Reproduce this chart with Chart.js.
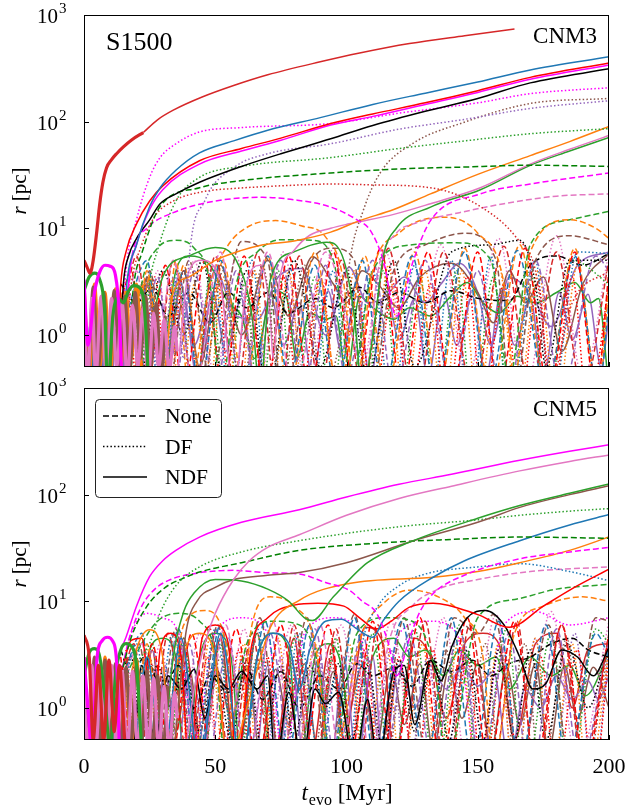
<!DOCTYPE html>
<html>
<head>
<meta charset="utf-8">
<title>S1500 orbits</title>
<script src="https://cdn.jsdelivr.net/npm/chart.js@4.4.1/dist/chart.umd.min.js"></script>
<style>
  html, body { margin: 0; padding: 0; background: #fff; }
  #wrap { position: relative; width: 627px; height: 810px; }
  canvas { position: absolute; left: 0; }
  #top { top: 0; }
  #bottom { top: 378px; }
</style>
</head>
<body>
<div id="wrap">
  <canvas id="top" width="627" height="378" style="width:627px;height:378px"></canvas>
  <canvas id="bottom" width="627" height="432" style="width:627px;height:432px"></canvas>
</div>
<script>
// axis ticks
const xTicks = [0, 50, 100, 150, 200];
const yTicks = [1, 10, 100, 1000];
const yTickExp = ["0", "1", "2", "3"];

// ---- top panel (CNM3), [t_evo in Myr, r in pc] ----
const topRedThick = [[0,5],[1.2,4.3],[2.3,3.8],[3.5,5],[4.8,9],[6,17],[7.2,27],[8.6,37],[10.5,44],[12.4,50],[15,58],[18,67],[22.6,79]];
const topRedThin = [[22.6,79],[28,104],[34,128],[45,170],[57,218],[70,275],[90,364],[105,440],[124,540],[145,640],[164,740]];
const topBlue = [[14,0.3],[16,2.5],[20,7],[25,16],[29,24],[35,35],[44,51],[57,66],[70,83],[90,109],[110,145],[130,185],[150,235],[170,305],[200,405]];
const topBrightRed = [[12,0.3],[14,3],[16,6],[20,11],[25,18],[30,25],[44,43],[60,56],[75,70],[94,96],[110,118],[130,150],[150,195],[170,260],[200,355]];
const topMagenta = [[15,0.3],[17,3],[20,7],[25,15],[30,23],[44,40],[60,53],[75,67],[94,93],[110,112],[130,145],[150,188],[170,250],[200,340]];
const topBlack = [[13,0.3],[15,3],[17,5.5],[20,8],[25,12],[29,17],[35,21],[44,27],[60,38],[75,50],[94,69],[110,92],[130,125],[150,165],[170,231],[200,313]];
const topMagentaDot = [[13,0.3],[16,4],[20,12],[25,30],[29,46],[35,62],[44,80],[60,88],[94,96],[120,120],[150,150],[170,183],[200,208]];
const topPurpleDot = [[14,2],[18,0.3],[24,3],[29,0.3],[34,3.5],[38,0.6],[40,5],[46,18],[57,37],[70,50],[94,62],[120,85],[145,105],[170,133],[200,157]];
const topGreenDot = [[22,0.4],[25,3],[28,6.2],[35,18],[44,30],[60,38],[94,46],[120,56],[145,66],[170,77],[200,86]];
const topDGreenDash = [[16,0.4],[19,3],[22,5.8],[29,16],[44,24],[60,28],[94,33],[120,36],[145,37.5],[170,39],[200,38]];
const topRedDot = [[14,0.3],[18,3],[22,7],[27,13],[34,18],[45,22],[57,23.6],[75,25],[94,26],[110,25.5],[132,24],[151,16],[165,8],[172,4],[178,0.4],[186,2],[200,4]];
const topMagentaDash = [[14,0.3],[18,5],[24,10],[34,14],[50,18],[68,19.5],[80,18.5],[94,15.8],[104,12],[109,9.6],[114,5],[119,1.5],[125.5,5],[132,11.8],[151,21],[170,26],[200,33]];
const topBrownDot = [[14,1.5],[18,0.3],[24,3],[30,0.3],[38,4],[45,0.3],[53,4],[60,0.3],[68,4.5],[75,0.3],[84,4.5],[91,0.3],[99,1.5],[101.3,5],[106.4,14.7],[112.8,33],[125.5,63],[144.5,98],[170,148],[200,165]];
const topOrange = [[16,0.3],[20,2],[24,3],[27,1],[30,0.4],[34,2.5],[40,3.5],[50,5],[60,6.2],[67,6.9],[80,7.6],[94,9.2],[105,11.8],[118,15],[132,21],[150,32],[170,48],[185,65],[200,90]];
const topPink = [[35,0.3],[40,4],[45,5],[52,3],[57,0.3],[62,3],[67,4.5],[71,1.5],[72,0.6],[74.5,3.3],[80,6.2],[86,8.6],[94,10],[101,11],[118,13.5],[132,17],[151,24],[170,40],[185,55],[200,74]];
const topGreenRise = [[22,0.3],[30,3.5],[40,5.5],[50,6.6],[58,5],[64,1.5],[67,0.3],[71,3.3],[80,6],[92.5,7.4],[99,5],[103,1.5],[106,0.3],[111,1.5],[114,5.4],[119,10],[132,15.8],[151,23],[170,39],[185,53],[200,71]];
const topPinkDash = [[15,1],[20,4],[26,0.3],[34,5],[42,0.3],[52,6],[60,0.3],[70,6],[80,0.3],[92,6],[102,1],[107,0.4],[112,4],[119,9],[125.5,11],[143,14],[160,17],[180,20],[200,21]];
const topOrangeDash = [[14,2.5],[18,0.3],[24,4],[30,0.3],[35,5],[40,0.3],[48,3],[55,7],[63,10.5],[73,11.8],[83,10.5],[92,8.3],[99,3],[103,0.3],[110,4],[120,9],[137,12.7],[150,9],[160,3],[164,0.4],[170,6],[185,12],[195,10],[200,8]];
const topGreenDash = [[18,0.5],[22,3],[28,6.5],[35,7.7],[42,6.5],[48,3],[52,0.3],[58,3],[66,6],[75,7.8],[87,7.7],[95,5],[102,0.4],[110,4],[125,7],[142,7.3],[155,5],[162,0.4],[170,7],[185,12],[200,14.4]];
const topBrownDash = [[15,2],[18,0.3],[25,4],[32,0.3],[40,5],[48,0.4],[60,7.5],[70,5],[76,0.2],[85,4],[95,6.5],[103,5],[108,0.2],[118,4],[130,7],[145,9],[157,5],[163,0.2],[172,5],[185,8.5],[200,7]];
const topRedDash = [[14,1],[20,5.5],[27,0.3],[34,5],[42,0.3],[50,5.5],[58,0.3],[66,5.8],[74,0.2],[82,5.5],[90,0.3],[98,5],[106,0.3],[116,6.5],[126,0.2],[137,6],[148,0.3],[160,6.8],[170,0.3],[180,6],[190,0.3],[200,5]];
const topBrightRedDash = [[14,2],[18,4],[24,0.3],[31,4.5],[38,0.3],[46,5],[53,0.3],[61,5.5],[69,0.3],[78,5.5],[86,0.3],[95,6],[103,0.3],[113,6.5],[121,0.3],[131,6],[140,0.3],[150,6],[158,0.3],[168,6.5],[177,0.3],[187,6],[195,0.3],[200,4]];
const topBlueDash = [[16,1.5],[24,5],[30,0.3],[38,4],[44,0.3],[52,5],[60,0.3],[70,5.5],[78,0.4],[88,4.5],[96,0.3],[106,5],[114,0.3],[125,5.5],[134,0.3],[145,6],[154,0.3],[165,6.2],[176,0.3],[187,5.5],[196,0.3],[200,2]];
const topPurpleDash = [[14,2],[20,0.3],[28,3.5],[34,0.3],[42,4],[50,0.3],[58,4],[65,0.4],[75,5],[84,0.3],[92,4.5],[100,0.4],[110,5],[118,0.3],[130,5],[140,0.3],[150,4],[160,0.2],[172,5],[182,0.3],[195,5.5],[200,4]];
const topOrangeDashLow = [[15,3],[19,0.3],[25,3.5],[31,0.3],[38,4.5],[45,0.3],[53,5],[61,0.3],[70,5.5],[78,0.3],[88,6],[97,0.3],[107,5.5],[115,0.3],[126,6],[135,0.3],[145,6.5],[155,0.3],[166,7],[176,0.3],[187,6.5],[196,0.3],[200,3]];
const topBlackDash = [[14,3],[20,2],[26,2.8],[32,1.5],[40,2.5],[48,1.3],[55,2.5],[62,1.8],[70,2.5],[78,1.6],[88,2.2],[95,1.8],[105,2.8],[112,2],[120,2.5],[130,2],[140,2.6],[150,2.2],[162,2.1],[170,4.5],[180,5.5],[190,4.5],[200,5.8]];
const topBlackDot = [[15,2],[20,0.3],[30,4],[38,1],[45,5],[53,0.4],[62,4],[70,0.3],[80,5],[90,0.5],[100,4],[108,0.4],[118,5],[126,0.5],[140,6],[155,7],[166,7.7],[172,3],[176,0.5],[185,5],[200,5]];
const topOrangeDot = [[15,1.5],[18,0.2],[22,3],[27,0.2],[32,2.5],[37,0.2],[42,3],[47,0.2],[53,3.5],[59,0.2],[65,4],[71,0.2],[78,4],[84,0.2],[90,3.5],[96,0.2],[103,4],[109,0.2],[116,4.5],[122,0.2],[130,4],[137,0.2],[144,4],[150,0.2],[158,4.5],[165,0.2],[173,4],[180,0.2],[188,4.5],[195,0.3],[200,3]];
const topGreenDotLow = [[16,2],[20,0.2],[25,3.5],[30,0.2],[36,3],[42,0.2],[48,3.5],[54,0.2],[61,3],[67,0.2],[74,4],[80,0.2],[88,3.5],[94,0.2],[101,3],[107,0.2],[114,4],[120,0.2],[128,3.5],[134,0.2],[142,4],[148,0.2],[156,3.5],[162,0.2],[170,4],[176,0.2],[186,5],[200,3]];
const topRedDotLow = [[17,3],[21,0.2],[27,3.5],[32,0.2],[38,4],[44,0.3],[51,3],[56,0.2],[63,3],[69,0.2],[76,3.5],[82,0.2],[90,3.5],[97,0.2],[104,3],[110,0.2],[118,3],[124,0.2],[132,3],[138,0.2],[146,3.5],[152,0.2],[160,3],[166,0.2],[173,3],[178,0.2],[186,3.5],[192,0.2],[200,3]];
const topBlueDot = [[15,2],[19,0.2],[24,3],[29,0.2],[36,4],[42,0.2],[49,4.5],[56,0.2],[64,5],[70,0.2],[79,4],[86,0.2],[95,4],[101,0.2],[110,4],[117,0.2],[126,4.5],[132,0.2],[140,5],[147,0.2],[155,5.5],[162,0.2],[172,5],[178,0.2],[188,6],[200,5.8]];
const topPinkDot = [[16,2],[21,0.3],[28,4],[34,0.3],[42,5],[50,0.4],[58,5.5],[66,0.3],[76,6],[85,0.3],[95,6.5],[104,0.3],[115,6],[124,0.3],[136,7],[146,0.4],[158,8],[168,0.3],[180,8.5],[190,0.4],[200,6]];
const topBrownSolid = [[14,2],[18,0.3],[24,3.5],[30,0.4],[38,4],[44,0.5],[52,4.5],[60,1],[70,5],[78,1.5],[87,5.4],[95,3],[100,2],[106,4],[112,3],[120,1.8],[128,3.5],[140,4.7],[150,2.5],[156,1.3],[162,4],[168,2],[175,3.5],[182,0.7],[190,3],[200,5.8]];
const topPurpleSolid = [[14,2.5],[18,0.3],[24,3],[30,0.3],[36,3.5],[42,0.8],[50,4],[58,1.5],[66,1.4],[74,3.5],[83,4.2],[92,1],[101,4.3],[108,2],[115,2.3],[122,3.5],[130,2],[136,3],[143,4.7],[150,2.5],[155,0.8],[162,3.5],[170,2.5],[178,1.2],[188,4.5],[200,6]];
const topGreenLow = [[30,0.5],[35,4],[40,5.5],[48,4.5],[55,2],[60,1.5],[65,0.6],[72,2.6],[77,2.3],[81,0.6],[86,1.6],[92,1.4],[96,1.5],[100,0.4],[105,2.3],[110,1.8],[118,1.4],[124,1.8],[132,1.5],[139,2.2],[146,3.1],[152,2],[158,1.6],[165,2.3],[172,2],[180,2.5],[187,3.1],[193,2],[196,2.2],[200,0.3]];
const topPurpleLow = [[20,1.5],[24,0.4],[29,2],[33,0.6],[38,2.2],[43,0.4],[49,2.5],[54,0.7],[60,2.2],[65,0.4],[71,2.4],[76,0.8],[82,2],[87,0.4],[93,2.6],[98,0.7],[104,2.3],[109,0.4],[115,2.6],[120,0.9],[126,2.2],[131,0.4],[137,2.5],[142,0.8],[148,2.3],[153,0.4],[159,2.6],[164,0.8],[170,2.2],[175,0.4],[181,2.5],[186,0.9],[192,2.4],[197,0.5],[200,1.5]];
const topMagentaThick = [[0,3.3],[1.5,0.8],[4,2.5],[6,3.9],[8,4.5],[10,4.4],[12,3.6],[13.5,1.5],[14.5,0.3]];
const topGreenThick = [[0,2.6],[2,3.5],[4,3.8],[6,3.3],[8,1.5],[9,0.3],[11,1.5],[13,2.2],[15,2],[17,2.6],[19,2.9],[21,2.8],[23,1.8],[24.5,0.4]];
const topPinkThick = [[0,1.5],[1.5,0.4],[3,2.2],[4.5,0.4],[6.5,2.3],[8.5,0.4],[10.5,2.2],[12.5,0.5],[14.5,2],[16.5,0.4],[18.5,1.9],[20.5,0.5],[22.5,1.8],[24.5,0.4],[26.5,1.6],[28.5,0.5],[30.5,1.4],[32.5,0.45],[34.5,1.2],[35.5,0.7]];
const topBrownThick = [[0,2],[1.5,0.4],[3.5,2.8],[5.5,0.5],[7.5,2.5],[9.5,0.4],[11.5,2.6],[13.5,0.5],[15.5,2.3],[17.5,0.5],[19.5,2.5],[21.5,0.6],[23.5,2.3],[25.5,0.5],[27.5,2],[29.5,0.4],[31,1.5]];
const topOrangeThick = [[0,3],[2,0.4],[4,3],[6,0.5],[8,2.5],[10,0.4],[12,2.7],[14,0.5],[16,2.5],[18,0.6],[20,3],[22,0.4]];
const topBlueThick = [[0,1.5],[1,0.3],[2.5,1.2],[4,0.3],[5.5,1],[7,0.3],[8.5,0.9],[10,0.3]];
const topPurpleThick = [[0,1],[2,0.3],[4,1.3],[6,0.3],[8,1.2],[10,0.3],[12,1.1],[14,0.3],[16,1],[18,0.3]];

// ---- bottom panel (CNM5) ----
const botMagenta = [[14,3.5],[16,4.6],[20,9],[25,17],[30,24],[35,30],[44,40],[60,55],[82,72],[100,95],[120,125],[140,155],[166,210],[185,255],[200,293]];
const botPink = [[38,0.3],[42,1.5],[46,4],[50,7.7],[57,16],[63,24],[70,32],[82,42],[100,64],[120,92],[140,120],[166,167],[185,205],[200,236]];
const botGreen = [[30,0.3],[34,3],[38,8],[42,12],[50,16],[60,15.5],[70,13],[78,10],[84,7],[87,6.6],[95,11],[108,23],[125.5,37],[150,60],[166,79],[185,103],[200,126]];
const botBrown = [[34,0.3],[37,2],[39,5.4],[43,10],[50,13.5],[57,16],[70,17.5],[82,18.6],[100,23],[125.5,37],[150,55],[166,76],[185,100],[200,121]];
const botGreenDot = [[15,1],[20,2.5],[25,4],[29,7.8],[35,14],[44,21],[60,29],[82,37],[120,50],[150,58],[166,64],[185,70],[200,74]];
const botDGreenDash = [[14,2],[18,4.6],[24,9],[31,13.5],[38,16.5],[44,18.8],[60,23],[82,30],[111,35],[140,38],[166,40],[200,39]];
const botMagentaDash = [[14,2],[17,4.3],[22,9],[27,13],[33,16],[44,18.5],[57,19.5],[70,18.5],[82,18],[92,15],[101,12.7],[106,10],[111.5,7.7],[116,4],[119,2],[124,4.5],[128,8],[133,11.8],[146,18],[166,25],[185,29],[200,32]];
const botBlue = [[14,1.5],[18,0.3],[24,3],[30,0.3],[37,4.5],[44,0.3],[52,5],[60,0.3],[66,3],[72,5],[78,4],[82,1.5],[86,3.5],[92,6.5],[98,6.8],[104,5.5],[110,4.6],[114,6.6],[120,10],[133,16.8],[145,24],[166,37],[185,52],[200,65]];
const botOrange = [[16,1],[20,3.5],[25,5.4],[30,3],[33,0.3],[38,3],[44,5],[50,3],[55,0.3],[62,1],[67,2.8],[71,5.7],[82,10.2],[101,14.7],[133,16.8],[150,19],[166,23],[185,30],[200,40]];
const botBrightRed = [[14,2],[18,4.3],[22,4.5],[24,2],[26,0.4],[29,3.5],[33,5],[37,3],[40,0.3],[45,4.5],[50,6],[55,4],[58,0.3],[64,4],[70,7],[80,9.2],[89,9.6],[99,9],[105,7],[111.5,5.5],[117,6.5],[124,8.8],[133,9.6],[150,7.5],[162,5.7],[175,9],[188,14],[200,20]];
const botBlack = [[14,1.5],[18,0.3],[22,2.5],[27,0.5],[32,2],[37,1.5],[42,2.3],[46,0.8],[50,2],[55,1.5],[60,2.2],[66,1.5],[70,2],[73,0.3],[78,1.4],[83,0.3],[88,1.5],[92,1.1],[97,1.4],[103,0.3],[108,1.2],[112,0.3],[118,2.2],[122,2.5],[126,0.7],[132,2.8],[136,1.8],[140,3.7],[146,7],[153,8.2],[160,6],[166,3],[171,1.5],[176,1.7],[182,3.5],[188,3],[194,2],[200,3.7]];
const botBlueDot = [[14,1],[20,4],[26,0.3],[34,5],[42,0.3],[50,5.5],[58,0.3],[66,5.5],[74,0.3],[82,5],[90,0.3],[96,2],[100,0.3],[106,4],[112,9],[120,14],[130,18],[150,21],[166,22.5],[185,19],[200,15.6]];
const botPinkDash = [[15,2],[22,4],[28,0.3],[36,5],[44,0.3],[54,6],[62,0.3],[72,6.5],[80,0.3],[90,6],[98,0.3],[104,3],[109,0.3],[116,4],[125,9],[135,13],[150,16],[170,19],[200,21]];
const botOrangeDash = [[14,2],[18,0.3],[24,4],[30,0.3],[38,6],[46,8.2],[54,4],[58,0.3],[64,6],[71,11],[80,9],[88,4],[94,0.3],[106,5],[115,10],[124,12.7],[135,11],[145,7],[152,3],[156,0.3],[164,5],[175,9],[190,11],[200,10]];
const botGreenDash = [[16,2],[22,4],[28,6.5],[36,7.7],[44,6.5],[50,3],[54,0.3],[62,4],[72,6.5],[82,6],[90,2],[94,0.3],[104,5],[115,7],[125,6.5],[134,2],[138,0.3],[150,7],[165,10.5],[180,13],[200,14.4]];
const botRedDash = [[14,1.5],[19,4],[25,0.3],[32,5],[40,0.3],[48,5.5],[56,0.3],[64,5],[72,0.2],[80,6],[88,0.3],[96,5.5],[104,0.2],[112,6],[120,0.2],[130,6.5],[138,0.2],[147,6],[156,0.3],[165,6.5],[172,0.2],[182,6],[190,0.3],[200,5]];
const botBrightRedDash = [[14,3],[19,0.3],[26,4],[33,0.3],[41,5],[49,0.3],[58,5.5],[66,0.3],[75,6],[83,0.3],[93,6],[101,0.3],[110,6.5],[118,0.3],[128,7],[136,0.3],[146,7],[154,0.3],[164,6.5],[172,0.3],[182,6],[191,0.3],[200,5]];
const botBlueDash = [[15,2],[22,5],[28,0.3],[36,5.5],[43,0.3],[52,6],[60,0.3],[69,6.5],[77,0.3],[86,6],[94,0.3],[103,7],[111,0.3],[121,6.5],[130,0.3],[140,7],[148,0.3],[158,6.5],[166,0.3],[176,6],[184,0.3],[195,5],[200,3]];
const botPurpleDash = [[14,2],[19,0.3],[26,3.5],[32,0.3],[40,4],[47,0.3],[55,4.5],[62,0.3],[71,5],[79,0.3],[88,5.5],[96,0.3],[106,5],[114,0.3],[124,5],[133,0.3],[143,5.5],[151,0.3],[162,5],[170,0.2],[180,5.5],[189,0.3],[200,4.5]];
const botBrownDash = [[16,1],[21,4],[27,0.3],[35,5.5],[42,0.3],[51,6],[58,0.3],[67,7],[75,0.3],[85,7],[93,0.3],[103,7.5],[112,0.3],[122,7],[131,0.3],[141,7],[150,5],[156,7.5],[166,0.3],[177,6],[185,0.3],[195,7],[200,6.5]];
const botBlackDash = [[14,3.5],[18,2],[23,3],[30,1.5],[36,2.5],[42,1],[48,2],[55,1.4],[62,2.3],[68,1.2],[75,2.2],[82,1],[90,2],[97,1.5],[104,2.6],[110,2],[118,2.4],[125,1.6],[132,2.8],[140,2.2],[148,2.8],[155,2],[162,2.6],[170,3],[178,4],[186,4.5],[192,3.5],[200,3]];
const botBlackDot = [[14,1.5],[18,3],[22,0.5],[28,2.5],[33,1],[38,2.5],[44,0.6],[50,2.5],[56,0.5],[62,2.8],[68,0.4],[75,2.5],[80,0.5],[86,2.5],[92,1],[97,2.6],[102,0.5],[108,2.5],[114,0.4],[120,2.8],[126,0.6],[133,3],[139,0.5],[146,3.5],[152,0.5],[158,3.5],[164,0.5],[170,3.5],[176,0.5],[184,4],[192,1],[200,4]];
const botOrangeDot = [[15,2],[19,0.2],[24,3.5],[29,0.2],[35,4],[41,0.2],[48,4.5],[54,0.2],[61,4],[67,0.2],[74,4.5],[80,0.2],[88,4],[94,0.2],[101,4],[107,0.2],[115,4.5],[121,0.2],[129,4],[135,0.2],[143,4.5],[150,0.2],[158,4],[164,0.2],[172,4.5],[178,0.2],[186,4],[192,0.2],[200,3.5]];
const botGreenDotLow = [[16,3],[20,0.3],[26,4],[31,0.2],[38,4.5],[44,0.2],[52,4],[58,0.2],[66,5],[72,0.2],[81,5],[88,0.2],[96,4.5],[102,0.2],[110,5],[117,0.2],[126,5.5],[134,0.2],[143,6],[151,0.2],[161,5.5],[168,0.2],[178,5],[185,0.2],[195,5.5],[200,4]];
const botRedDot = [[16,3.5],[20,0.3],[25,3],[30,0.2],[36,3.5],[41,0.2],[47,3],[52,0.2],[59,3.5],[64,0.2],[70,3],[75,0.2],[82,3.5],[88,0.2],[95,3],[100,0.2],[107,3.5],[113,0.2],[120,3],[126,0.2],[133,3.5],[139,0.2],[146,3],[152,0.2],[160,3.5],[166,0.2],[174,3],[180,0.2],[188,3.5],[194,0.2],[200,3]];
const botPurpleDot = [[15,2.5],[19,0.2],[25,3],[30,0.2],[37,3.5],[43,0.2],[50,3],[55,0.2],[62,3.5],[68,0.2],[75,3],[81,0.2],[89,3.5],[95,0.2],[103,3],[109,0.2],[117,3.5],[123,0.2],[131,3],[137,0.2],[145,4],[151,0.2],[158,4],[164,0.2],[172,4.5],[178,0.2],[187,5],[194,0.2],[200,4]];
const botBrownDot = [[16,2],[20,0.2],[26,2.5],[31,0.2],[38,3],[44,0.2],[52,3],[58,0.2],[66,3],[72,0.2],[80,3],[86,0.2],[94,3],[100,0.2],[108,3],[114,0.2],[123,3.5],[129,0.2],[138,3.5],[144,0.2],[153,4],[159,0.2],[168,4],[174,0.2],[184,4.5],[190,0.2],[200,4]];
const botMagentaDot = [[14,2],[18,5],[24,7.7],[30,7],[36,5],[42,0.5],[50,5],[60,7],[70,5],[76,0.3],[84,5],[95,7],[105,5],[112,0.3],[120,5],[132,6.5],[142,5],[150,0.3],[160,6],[172,8],[185,6],[200,7]];
const botPinkDot = [[17,2.5],[22,0.3],[29,4],[36,0.3],[44,5],[52,0.3],[61,5.5],[69,0.3],[79,6],[88,0.3],[98,6],[107,0.3],[117,6.5],[126,0.3],[137,7],[146,0.3],[157,7.5],[166,0.3],[178,8],[188,0.3],[200,6.5]];
const botPurpleSolid = [[14,1],[18,0.3],[22,2],[26,0.3],[31,2.5],[35,0.3],[40,2],[44,0.3],[50,2.5],[55,0.3],[60,2.8],[65,0.3],[70,2.5],[74,0.3],[79,2.8],[84,0.3],[89,2.8],[94,0.3],[99,3],[104,0.3],[110,3],[114,0.3],[120,2.5],[126,1],[132,2.5],[138,1.5],[144,2.5],[150,1.6],[156,2.2],[162,0.3],[168,1.5],[174,1],[180,2],[186,1.2],[192,1.8],[196,1.2],[200,2]];
const botGreenLow = [[20,0.3],[25,3.5],[30,4.5],[35,3],[38,0.3],[44,3],[50,5],[56,3],[60,0.3],[66,3],[72,5],[78,3.5],[82,0.3],[88,3],[93,4],[98,2.5],[103,0.3],[110,3],[118,4.5],[124,3],[130,3.5],[137,2],[143,3.5],[150,2.5],[157,3],[162,1.5],[170,3],[178,2],[185,2.5],[191,1.3],[200,3.3]];
const botRedSolid = [[16,3],[20,0.3],[26,3.5],[31,0.3],[38,4.5],[45,0.3],[52,4.5],[58,0.3],[66,5],[72,0.3],[80,4.5],[86,0.3],[94,4],[99,0.5],[107,5.7],[114,4],[118,0.3],[126,4.5],[132,3],[138,0.8],[145,4],[152,5],[158,4],[164,0.5],[172,4],[180,5],[186,1],[192,3.5],[200,4]];
const botBrownLow = [[22,1.2],[26,0.4],[31,2],[35,0.6],[40,2.4],[45,0.4],[51,2.2],[56,0.8],[62,2.5],[67,0.4],[73,2.3],[78,0.7],[84,2.6],[89,0.4],[95,2.2],[100,0.8],[106,2.5],[111,0.4],[117,2.4],[122,0.7],[128,2.6],[133,0.4],[139,2.3],[144,0.8],[150,2.6],[155,0.4],[161,2.4],[166,0.7],[172,2.6],[177,0.4],[183,2.5],[188,0.8],[194,2.4],[200,1]];
const botRedThick = [[0,4.8],[2,3],[3.5,0.5],[5.5,2.5],[7.5,0.5],[9.5,2.8],[11.5,0.6],[13.5,2.5],[15.5,0.5]];
const botMagentaThick = [[0,3],[1.5,1],[3,0.4],[5,3],[7,4.3],[9,4.6],[11,4.2],[12.5,2.5],[13.5,0.4]];
const botGreenThick = [[0,2],[2,3.3],[4,3.6],[6,3],[8,1.2],[10,0.4],[12,2],[14,3.5],[16,4],[18,3.8],[20,2.5],[22,0.4]];
const botPinkThick = [[0,1.5],[1.5,0.4],[3,2.5],[4.5,0.4],[6.5,2.4],[8.5,0.4],[10.5,2.5],[12.5,0.4],[14.5,2.2],[16.5,0.4],[18.5,2.2],[20.5,0.4],[22.5,2],[24.5,0.4],[26.5,1.9],[28.5,0.4],[30.5,1.6],[32.5,0.4],[34.5,1.4],[35.5,0.8]];
const botBrownThick = [[0,2.5],[2,0.4],[4,3],[6,0.4],[8,2.8],[10,0.5],[12,2.6],[14,0.4],[16,2.4],[18,0.5],[20,2.5],[22,0.5],[24,2.2],[26,0.4],[28,2],[30,0.4],[32,1.6]];
const botOrangeThick = [[0,3],[2,0.4],[4,2.5],[6,0.4],[8,3],[10,0.5],[12,2.5],[14,0.5],[16,2.2],[18,0.4],[20,2.8],[22,0.5]];
const botBlueThick = [[0,1.2],[1,0.3],[2.5,1],[4,0.3],[5.5,1.2],[7,0.3],[9,1],[10.5,0.3]];
const botPurpleThick = [[0,1],[2,0.3],[4,1.2],[6,0.3],[8,1.3],[10,0.3],[12,1.2],[14,0.3]];

// colours and line styles
const C = {
  blue: "#1f77b4", orange: "#ff7f0e", green: "#2ca02c", red: "#d62728",
  purple: "#9467bd", brown: "#8c564b", pink: "#e377c2",
  magenta: "#ff00ff", black: "#000000", dgreen: "#008000", bred: "#ff0000",
};
const DASH = { None: [6, 3], DF: [1.5, 2.2], NDF: [] };
const FONT = '"Liberation Serif", "DejaVu Serif", serif';

function line(data, color, style, width) {
  return {
    data: data.map((p) => ({ x: p[0], y: p[1] })),
    borderColor: color,
    borderDash: DASH[style],
    borderWidth: width || 1.5,
    borderCapStyle: "butt",
    pointRadius: 0,
    fill: false,
    cubicInterpolationMode: "monotone",
    clip: 0,
  };
}

// first entries are drawn on top
const topSets = [
  line(topRedThick, C.red, "NDF", 3.2),
  line(topMagentaThick, C.magenta, "NDF", 3.2),
  line(topGreenThick, C.green, "NDF", 3.2),
  line(topPinkThick, C.pink, "NDF", 3.2),
  line(topBrownThick, C.brown, "NDF", 3.2),
  line(topOrangeThick, C.orange, "NDF", 3.2),
  line(topBlueThick, C.blue, "NDF", 3.2),
  line(topPurpleThick, C.purple, "NDF", 3.2),
  line(topRedThin, C.red, "NDF"),
  line(topBlue, C.blue, "NDF"),
  line(topBrightRed, C.bred, "NDF"),
  line(topMagenta, C.magenta, "NDF"),
  line(topBlack, C.black, "NDF"),
  line(topMagentaDot, C.magenta, "DF"),
  line(topPurpleDot, C.purple, "DF"),
  line(topGreenDot, C.green, "DF"),
  line(topDGreenDash, C.dgreen, "None"),
  line(topRedDot, C.red, "DF"),
  line(topMagentaDash, C.magenta, "None"),
  line(topBrownDot, C.brown, "DF"),
  line(topOrange, C.orange, "NDF"),
  line(topPink, C.pink, "NDF"),
  line(topGreenRise, C.green, "NDF"),
  line(topPinkDash, C.pink, "None"),
  line(topOrangeDash, C.orange, "None"),
  line(topGreenDash, C.green, "None"),
  line(topBrownDash, C.brown, "None"),
  line(topRedDash, C.red, "None"),
  line(topBrightRedDash, C.bred, "None"),
  line(topBlueDash, C.blue, "None"),
  line(topPurpleDash, C.purple, "None"),
  line(topOrangeDashLow, C.orange, "None"),
  line(topBlackDash, C.black, "None"),
  line(topBlackDot, C.black, "DF"),
  line(topOrangeDot, C.orange, "DF"),
  line(topGreenDotLow, C.green, "DF"),
  line(topRedDotLow, C.bred, "DF"),
  line(topBlueDot, C.blue, "DF"),
  line(topPinkDot, C.pink, "DF"),
  line(topBrownSolid, C.brown, "NDF"),
  line(topPurpleSolid, C.purple, "NDF"),
  line(topGreenLow, C.green, "NDF"),
  line(topPurpleLow, C.purple, "NDF"),
];

const botSets = [
  line(botRedThick, C.red, "NDF", 3.2),
  line(botMagentaThick, C.magenta, "NDF", 3.2),
  line(botGreenThick, C.green, "NDF", 3.2),
  line(botPinkThick, C.pink, "NDF", 3.2),
  line(botBrownThick, C.brown, "NDF", 3.2),
  line(botOrangeThick, C.orange, "NDF", 3.2),
  line(botBlueThick, C.blue, "NDF", 3.2),
  line(botPurpleThick, C.purple, "NDF", 3.2),
  line(botMagenta, C.magenta, "NDF"),
  line(botPink, C.pink, "NDF"),
  line(botGreen, C.green, "NDF"),
  line(botBrown, C.brown, "NDF"),
  line(botGreenDot, C.green, "DF"),
  line(botDGreenDash, C.dgreen, "None"),
  line(botMagentaDash, C.magenta, "None"),
  line(botBlue, C.blue, "NDF"),
  line(botOrange, C.orange, "NDF"),
  line(botBrightRed, C.bred, "NDF"),
  line(botBlack, C.black, "NDF"),
  line(botBlueDot, C.blue, "DF"),
  line(botPinkDash, C.pink, "None"),
  line(botOrangeDash, C.orange, "None"),
  line(botGreenDash, C.green, "None"),
  line(botRedDash, C.red, "None"),
  line(botBrightRedDash, C.bred, "None"),
  line(botBlueDash, C.blue, "None"),
  line(botPurpleDash, C.purple, "None"),
  line(botBrownDash, C.brown, "None"),
  line(botBlackDash, C.black, "None"),
  line(botBlackDot, C.black, "DF"),
  line(botOrangeDot, C.orange, "DF"),
  line(botGreenDotLow, C.green, "DF"),
  line(botRedDot, C.bred, "DF"),
  line(botPurpleDot, C.purple, "DF"),
  line(botBrownDot, C.brown, "DF"),
  line(botMagentaDot, C.magenta, "DF"),
  line(botPinkDot, C.pink, "DF"),
  line(botPurpleSolid, C.purple, "NDF"),
  line(botGreenLow, C.green, "NDF"),
  line(botRedSolid, C.red, "NDF"),
  line(botBrownLow, C.brown, "NDF"),
];

// frame, inward ticks, labels and legend
function decorations(panel) {
  return {
    id: "deco",
    afterDatasetsDraw(chart) {
      const { ctx, chartArea: a, scales } = chart;
      const x = scales.x, y = scales.y;
      ctx.save();
      ctx.setLineDash([]);
      ctx.strokeStyle = "#000";
      ctx.fillStyle = "#000";
      ctx.lineWidth = 1;
      ctx.strokeRect(a.left + 0.5, a.top + 0.5, a.width - 1, a.height - 1);
      ctx.beginPath();
      xTicks.forEach((v) => {
        const px = Math.round(x.getPixelForValue(v)) + 0.5;
        ctx.moveTo(px, a.bottom);
        ctx.lineTo(px, a.bottom - 5);
      });
      yTicks.forEach((v) => {
        const py = Math.round(y.getPixelForValue(v)) + 0.5;
        ctx.moveTo(a.left, py);
        ctx.lineTo(a.left + 5, py);
      });
      ctx.stroke();

      // y tick labels 10^k
      yTicks.forEach((v, i) => {
        const py = y.getPixelForValue(v);
        ctx.font = "21px " + FONT;
        ctx.textAlign = "right";
        ctx.textBaseline = "alphabetic";
        ctx.fillText("10", a.left - 26, py + 8);
        ctx.font = "15px " + FONT;
        ctx.textAlign = "left";
        ctx.fillText(yTickExp[i], a.left - 25, py - 2);
      });

      // y title
      ctx.save();
      ctx.translate(26, (a.top + a.bottom) / 2);
      ctx.rotate(-Math.PI / 2);
      ctx.font = "italic 21px " + FONT;
      const wr = ctx.measureText("r").width;
      ctx.font = "21px " + FONT;
      const wpc = ctx.measureText(" [pc]").width;
      const x0 = -(wr + wpc) / 2;
      ctx.textAlign = "left";
      ctx.font = "italic 21px " + FONT;
      ctx.fillText("r", x0, 0);
      ctx.font = "21px " + FONT;
      ctx.fillText(" [pc]", x0 + wr, 0);
      ctx.restore();

      // panel labels
      ctx.textAlign = "right";
      ctx.font = "23px " + FONT;
      ctx.fillText(panel.name, a.right - 12, a.top + 28);
      if (panel.run) {
        ctx.textAlign = "left";
        ctx.font = "26px " + FONT;
        ctx.fillText(panel.run, a.left + 22, a.top + 35);
      }

      if (panel.xlabels) {
        ctx.font = "22px " + FONT;
        ctx.textAlign = "center";
        xTicks.forEach((v) => {
          ctx.fillText(String(v), x.getPixelForValue(v), a.bottom + 33);
        });
        // x title: t_evo [Myr]
        ctx.textAlign = "left";
        ctx.font = "italic 23px " + FONT;
        const wt = ctx.measureText("t").width;
        ctx.font = "16px " + FONT;
        const we = ctx.measureText("evo").width;
        ctx.font = "23px " + FONT;
        const wm = ctx.measureText(" [Myr]").width;
        let xs = (a.left + a.right) / 2 - (wt + we + wm) / 2;
        const base = a.bottom + 60;
        ctx.font = "italic 23px " + FONT;
        ctx.fillText("t", xs, base);
        ctx.font = "16px " + FONT;
        ctx.fillText("evo", xs + wt + 1, base + 5);
        ctx.font = "23px " + FONT;
        ctx.fillText(" [Myr]", xs + wt + we + 1, base);
      }

      if (panel.legend) {
        const lx = a.left + 11.5, ly = a.top + 11.5, lw = 126, lh = 98, r = 4;
        ctx.beginPath();
        ctx.moveTo(lx + r, ly);
        ctx.arcTo(lx + lw, ly, lx + lw, ly + lh, r);
        ctx.arcTo(lx + lw, ly + lh, lx, ly + lh, r);
        ctx.arcTo(lx, ly + lh, lx, ly, r);
        ctx.arcTo(lx, ly, lx + lw, ly, r);
        ctx.closePath();
        ctx.fillStyle = "rgba(255,255,255,0.85)";
        ctx.fill();
        ctx.strokeStyle = "#222";
        ctx.lineWidth = 1;
        ctx.stroke();
        ctx.fillStyle = "#000";
        ctx.strokeStyle = "#000";
        ctx.lineWidth = 1.5;
        ["None", "DF", "NDF"].forEach((lab, i) => {
          const yy = a.top + 28 + i * 30.5;
          ctx.setLineDash(DASH[lab]);
          ctx.beginPath();
          ctx.moveTo(a.left + 19, yy);
          ctx.lineTo(a.left + 63, yy);
          ctx.stroke();
          ctx.setLineDash([]);
          ctx.font = "21.5px " + FONT;
          ctx.textAlign = "left";
          ctx.fillText(lab, a.left + 81, yy + 7);
        });
      }
      ctx.restore();
    },
  };
}

function makeChart(id, datasets, pad, panel) {
  const hidden = { display: false };
  return new Chart(document.getElementById(id), {
    type: "line",
    data: { datasets: datasets },
    options: {
      responsive: false,
      animation: false,
      devicePixelRatio: 1,
      events: [],
      layout: { padding: pad },
      plugins: { legend: hidden, tooltip: { enabled: false } },
      scales: {
        x: { type: "linear", min: 0, max: 200, display: false },
        y: { type: "logarithmic", min: 0.5, max: 1000, display: false },
      },
    },
    plugins: [decorations(panel)],
  });
}

makeChart("top", topSets, { left: 84, right: 18, top: 15, bottom: 11 },
  { name: "CNM3", run: "S1500", xlabels: false, legend: false });
makeChart("bottom", botSets, { left: 84, right: 18, top: 10, bottom: 70 },
  { name: "CNM5", run: null, xlabels: true, legend: true });
</script>
</body>
</html>
